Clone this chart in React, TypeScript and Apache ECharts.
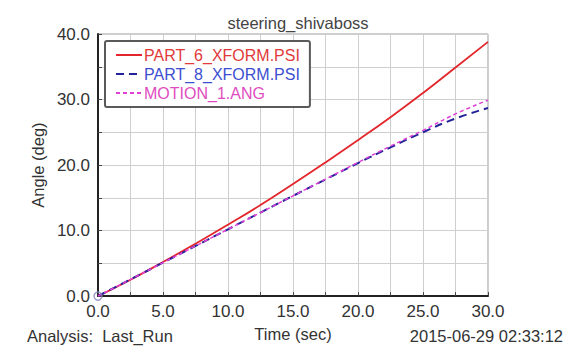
import React, { useEffect, useRef } from "react";
import * as echarts from "echarts";

const timeSec = [0, 2.5, 5, 7.5, 10, 12.5, 15, 17.5, 20, 22.5, 25, 27.5, 30];
const part6 = [0, 2.5, 5.2, 8.0, 10.9, 13.9, 17.1, 20.4, 23.8, 27.3, 31.0, 34.9, 38.8];
const part8 = [0, 2.55, 5.1, 7.65, 10.2, 12.75, 15.3, 17.8, 20.3, 22.7, 25.0, 27.1, 28.7];
const motion1 = [0, 2.55, 5.1, 7.65, 10.2, 12.75, 15.3, 17.85, 20.4, 22.9, 25.3, 27.8, 29.9];

const seriesNames = ["PART_6_XFORM.PSI", "PART_8_XFORM.PSI", "MOTION_1.ANG"];
const lineColors = ["#e3262b", "#23239a", "#e040d8"];
const textColors = ["#e03a3a", "#3c4fd0", "#e04cc0"];

const FONT = "Liberation Sans, Arial, sans-serif";

export default function App() {
  const ref = useRef<HTMLDivElement>(null);
  useEffect(() => {
    if (!ref.current) return;
    const chart = echarts.init(ref.current, undefined, { renderer: "svg" });
    const pairs = (ys: number[]) => timeSec.map((x, i) => [x, ys[i]]);
    chart.setOption({
      animation: false,
      backgroundColor: "#fff",
      textStyle: { fontFamily: FONT },
      title: {
        text: "steering_shivaboss",
        left: 293,
        textAlign: "center",
        top: 9,
        textStyle: { fontFamily: FONT, fontSize: 16.5, fontWeight: "normal", color: "#444" },
      },
      grid: {
        left: 98,
        right: 77,
        top: 34,
        bottom: 46,
        show: true,
        borderColor: "#9a9a9a",
        borderWidth: 1,
      },
      legend: {
        orient: "vertical",
        left: 105,
        top: 41,
        itemWidth: 26,
        itemHeight: 10,
        itemGap: 3,
        padding: [6, 10, 6, 10],
        borderColor: "#5a5a5a",
        borderWidth: 2,
        borderRadius: 2,
        backgroundColor: "#fff",
        itemStyle: { opacity: 0 },
        textStyle: { fontFamily: FONT, fontSize: 16, padding: [0, 0, 0, -3] },
        data: seriesNames.map((n, i) => ({ name: n, textStyle: { color: textColors[i] } })),
      },
      xAxis: {
        type: "value",
        min: 0,
        max: 30,
        interval: 2.5,
        name: "Time (sec)",
        nameLocation: "middle",
        nameGap: 27,
        nameTextStyle: { fontFamily: FONT, fontSize: 16.5, color: "#333" },
        axisLine: { lineStyle: { color: "#222", width: 2 } },
        axisTick: { inside: true, length: 4, lineStyle: { color: "#444" } },
        axisLabel: {
          fontFamily: FONT,
          fontSize: 17,
          color: "#333",
          margin: 7,
          formatter: (v: number) => (v % 5 === 0 ? v.toFixed(1) : ""),
        },
        splitLine: { show: true, lineStyle: { color: "#cfcfcf", width: 1 } },
      },
      yAxis: {
        type: "value",
        min: 0,
        max: 40,
        interval: 5,
        name: "Angle (deg)",
        nameLocation: "middle",
        nameGap: 52,
        nameRotate: 90,
        nameTextStyle: { fontFamily: FONT, fontSize: 16.5, color: "#333" },
        axisLine: { show: true, lineStyle: { color: "#222", width: 2 } },
        axisTick: { inside: true, length: 4, lineStyle: { color: "#444" } },
        axisLabel: {
          fontFamily: FONT,
          fontSize: 17,
          color: "#333",
          margin: 8,
          formatter: (v: number) => (v % 10 === 0 ? v.toFixed(1) : ""),
        },
        splitLine: { show: true, lineStyle: { color: "#cfcfcf", width: 1 } },
      },
      graphic: [
        {
          type: "text",
          left: 27,
          top: 327,
          style: { text: "Analysis:  Last_Run", font: `16.5px ${FONT}`, fill: "#333" },
        },
        {
          type: "text",
          right: 2,
          top: 327,
          style: { text: "2015-06-29 02:33:12", font: `16.5px ${FONT}`, fill: "#333" },
        },
      ],
      series: [
        {
          name: seriesNames[0],
          type: "line",
          data: pairs(part6),
          symbol: "none",
          smooth: true,
          lineStyle: { color: lineColors[0], width: 1.8 },
          itemStyle: { color: lineColors[0] },
          z: 3,
        },
        {
          name: seriesNames[1],
          type: "line",
          data: pairs(part8),
          symbol: "none",
          smooth: true,
          lineStyle: { color: lineColors[1], width: 2, type: [8, 5] },
          itemStyle: { color: lineColors[1] },
          z: 4,
        },
        {
          name: seriesNames[2],
          type: "line",
          data: pairs(motion1),
          symbol: "none",
          smooth: true,
          lineStyle: { color: lineColors[2], width: 1.5, type: [4, 3] },
          itemStyle: { color: lineColors[2] },
          z: 5,
        },
        {
          name: "origin",
          type: "scatter",
          data: [[timeSec[0], part6[0]]],
          symbol: "circle",
          symbolSize: 8,
          itemStyle: { color: "rgba(0,0,0,0)", borderColor: "#8a7fb8", borderWidth: 1.5 },
          z: 6,
        },
      ],
    });
    return () => chart.dispose();
  }, []);
  return (
    <div
      ref={ref}
      style={{ position: "fixed", left: 0, top: 0, width: 565, height: 347 }}
    />
  );
}
